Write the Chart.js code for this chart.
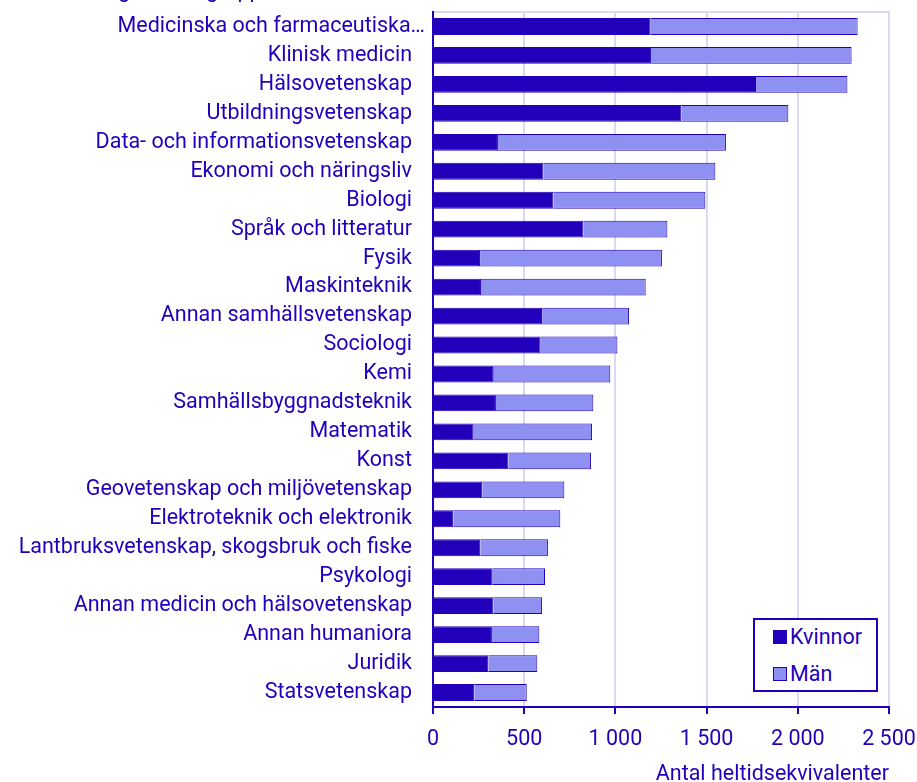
<!DOCTYPE html>
<html lang="sv">
<head>
<meta charset="utf-8">
<title>Forskningsämnesgrupp</title>
<script src="https://cdn.jsdelivr.net/npm/chart.js@4"></script>
<style>
  body { margin: 0; background: #fff; font-family: Roboto, sans-serif; }
  #wrap { position: relative; width: 917px; height: 782px; overflow: hidden; }
  #topTitle { position: absolute; left: 36px; top: -21px; font-size: 21.5px; line-height: 22px; color: #2200BB; white-space: nowrap; }
  #legendBox { position: absolute; left: 753px; top: 618px; width: 121px; height: 70px; border: 2px solid #2200BB; background: #fff; }
  .legendItem { position: absolute; left: 18px; display: flex; align-items: center; font-size: 21.5px; line-height: 24px; color: #2200BB; }
  .legendItem span.sw { display: inline-block; width: 12px; height: 12px; border: 1px solid #2200BB; margin-right: 3px; }
</style>
</head>
<body>
<div id="wrap">
  <div id="topTitle">Forskningsämnesgrupp</div>
  <canvas id="chart" width="917" height="782"></canvas>
  <div id="legendBox"></div>
</div>
<script>
// Data
const categories = [
  'Medicinska och farmaceutiska…', 'Klinisk medicin', 'Hälsovetenskap', 'Utbildningsvetenskap',
  'Data- och informationsvetenskap', 'Ekonomi och näringsliv', 'Biologi', 'Språk och litteratur',
  'Fysik', 'Maskinteknik', 'Annan samhällsvetenskap', 'Sociologi', 'Kemi',
  'Samhällsbyggnadsteknik', 'Matematik', 'Konst', 'Geovetenskap och miljövetenskap',
  'Elektroteknik och elektronik', 'Lantbruksvetenskap, skogsbruk och fiske', 'Psykologi',
  'Annan medicin och hälsovetenskap', 'Annan humaniora', 'Juridik', 'Statsvetenskap'
];
const kvinnor = [1193, 1195, 1771, 1361, 356, 605, 660, 824, 258, 263, 598, 590, 333, 345, 223, 413, 270, 111, 259, 327, 331, 323, 303, 226];
const man     = [1135, 1100, 501, 587, 1250, 943, 833, 461, 997, 903, 477, 421, 639, 534, 649, 453, 450, 587, 371, 287, 267, 260, 269, 288];
const seriesNames = ['Kvinnor', 'Män'];
const xTickLabels = ['0', '500', '1 000', '1 500', '2 000', '2 500'];
const xTitle = 'Antal heltidsekvivalenter';

const DARK = '#2200BB';
const LIGHT = '#8F91F2';
const GRID = '#D9D9F4';
const FONT = { family: 'Roboto, sans-serif', size: 21.5 };

// Den avkortade första etiketten sticker ut lite närmare axeln
const shiftTruncatedLabel = {
  id: 'shiftTruncatedLabel',
  beforeDraw(chart) {
    const items = chart.scales.y.getLabelItems();
    const first = items[0];
    if (first && !first._shifted) {
      first.options.translation = [first.options.translation[0] + 13, first.options.translation[1]];
      first._shifted = true;
    }
  }
};

const ctx = document.getElementById('chart').getContext('2d');
const chart = new Chart(ctx, {
  type: 'bar',
  data: {
    labels: categories,
    datasets: [
      { label: seriesNames[0], data: kvinnor, backgroundColor: DARK, borderColor: DARK, borderWidth: 1 },
      { label: seriesNames[1], data: man, backgroundColor: LIGHT, borderColor: DARK, borderWidth: 1 }
    ]
  },
  options: {
    indexAxis: 'y',
    responsive: false,
    animation: false,
    layout: { padding: { right: 28, top: 0, bottom: 0, left: 0 } },
    datasets: { bar: { categoryPercentage: 1, barPercentage: 0.58 } },
    plugins: { legend: { display: false }, tooltip: { enabled: false } },
    scales: {
      x: {
        stacked: true, min: 0, max: 2500,
        ticks: {
          stepSize: 500, color: DARK, font: FONT, padding: 13,
          callback: (v, i) => xTickLabels[i]
        },
        grid: { color: GRID, lineWidth: 2, tickColor: DARK, tickWidth: 2, tickLength: 7 },
        border: { color: DARK, width: 2 },
        title: { display: true, text: xTitle, align: 'end', color: DARK, font: FONT, padding: { top: 0, bottom: -6 } },
        // fast höjd, ingen extra marginal för sista etiketten
        afterFit: (s) => { s.height = 75; s.paddingLeft = 0; s.paddingRight = 0; }
      },
      x2: {
        position: 'top', min: 0, max: 2500,
        ticks: { display: false },
        grid: { display: false, drawTicks: false },
        border: { color: GRID, width: 2 },
        afterFit: (s) => { s.height = 12; s.paddingLeft = 0; s.paddingRight = 0; }
      },
      y: {
        stacked: true,
        ticks: { color: DARK, font: FONT, padding: 21, autoSkip: false },
        grid: { display: false, drawTicks: false },
        border: { color: DARK, width: 2 },
        afterFit: (s) => { s.width = 433; s.paddingTop = 0; s.paddingBottom = 0; }
      }
    }
  },
  plugins: [shiftTruncatedLabel]
});

// Legend inne i diagrammet
function buildLegend() {
  const box = document.getElementById('legendBox');
  const tops = [5, 42];
  chart.data.datasets.forEach((ds, i) => {
    const item = document.createElement('div');
    item.className = 'legendItem';
    item.style.top = tops[i] + 'px';
    item.innerHTML = `<span class="sw" style="background:${ds.backgroundColor}"></span>${ds.label}`;
    box.appendChild(item);
  });
}
buildLegend();
</script>
</body>
</html>
